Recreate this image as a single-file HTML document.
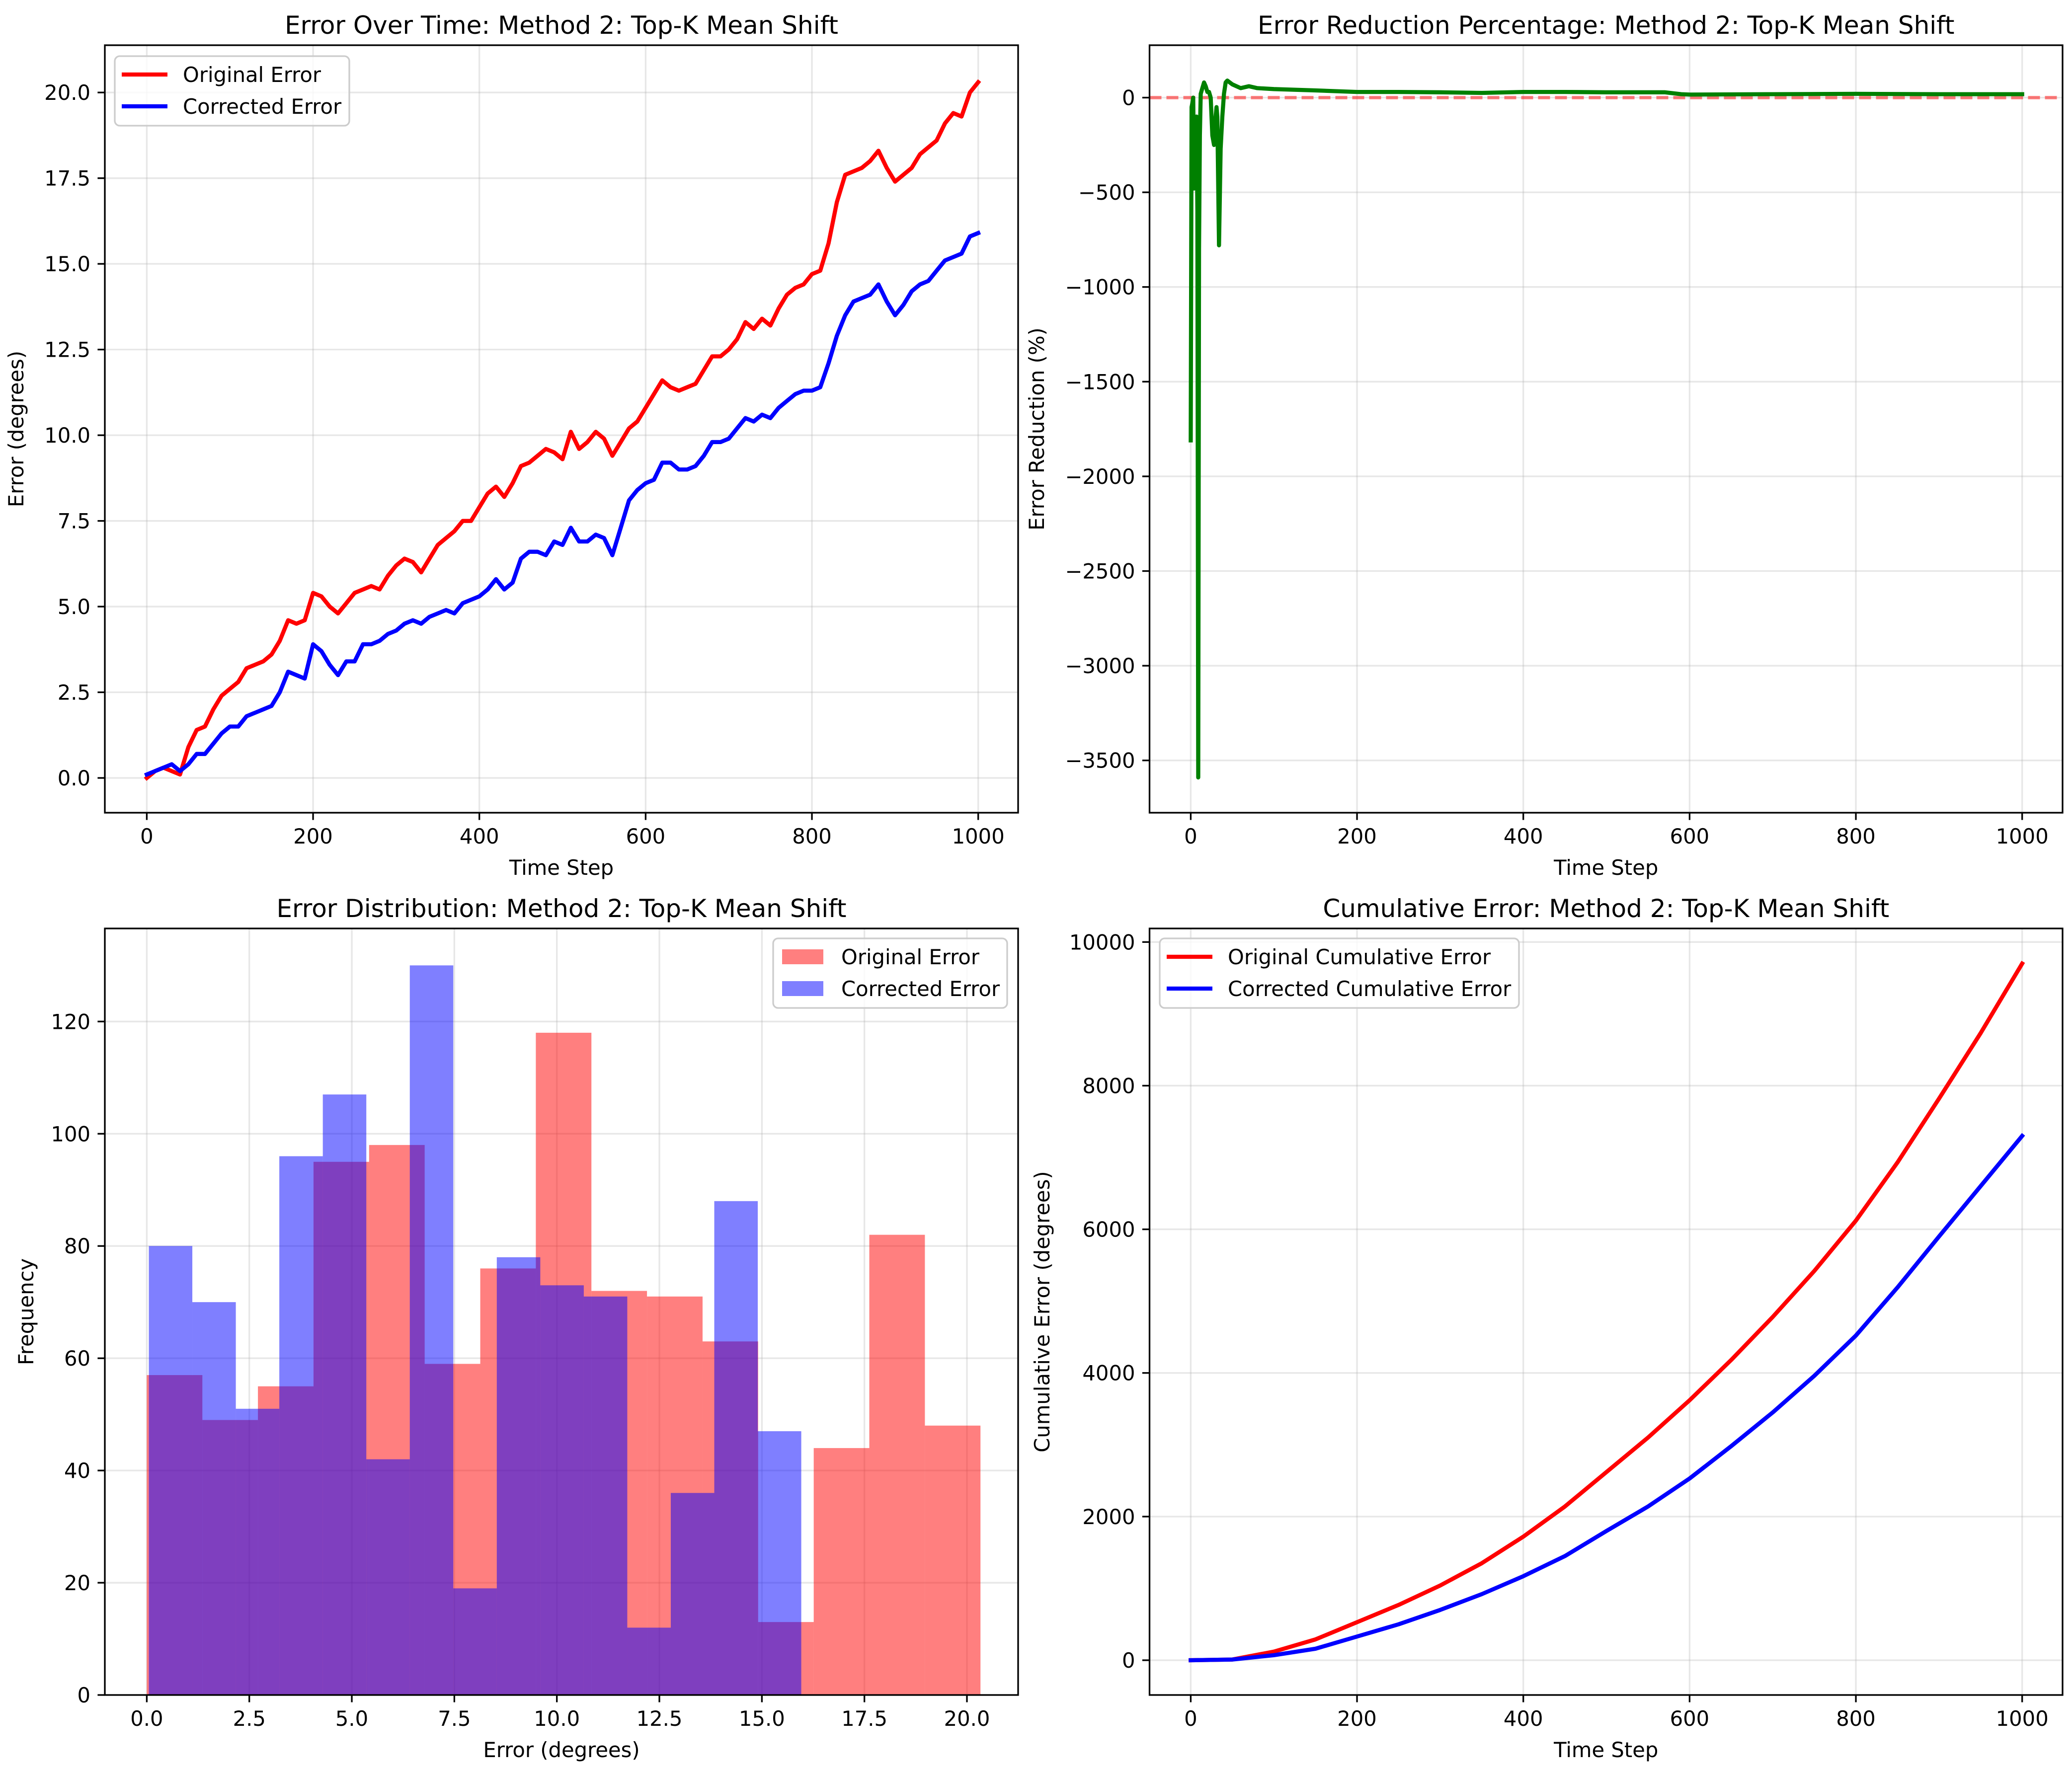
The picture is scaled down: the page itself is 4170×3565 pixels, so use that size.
<!DOCTYPE html>
<html><head><meta charset="utf-8"><style>
html,body{margin:0;padding:0;background:#fff}
svg{display:block}
text{font-family:"DejaVu Sans","Liberation Sans",sans-serif;fill:#000}
</style></head><body>
<svg id="fig" xmlns="http://www.w3.org/2000/svg" width="4170" height="3565" viewBox="0 0 4170 3565"></svg>
<script>
// ---------- Panel 1 data (every 10 steps) ----------
const p1Steps = [0,10,20,30,40,50,60,70,80,90,100,110,120,130,140,150,160,170,180,190,200,210,220,230,240,250,260,270,280,290,300,310,320,330,340,350,360,370,380,390,400,410,420,430,440,450,460,470,480,490,500,510,520,530,540,550,560,570,580,590,600,610,620,630,640,650,660,670,680,690,700,710,720,730,740,750,760,770,780,790,800,810,820,830,840,850,860,870,880,890,900,910,920,930,940,950,960,970,980,990,1000];
const originalError = [0,0.2,0.3,0.2,0.1,0.9,1.4,1.5,2.0,2.4,2.6,2.8,3.2,3.3,3.4,3.6,4.0,4.6,4.5,4.6,5.4,5.3,5.0,4.8,5.1,5.4,5.5,5.6,5.5,5.9,6.2,6.4,6.3,6.0,6.4,6.8,7.0,7.2,7.5,7.5,7.9,8.3,8.5,8.2,8.6,9.1,9.2,9.4,9.6,9.5,9.3,10.1,9.6,9.8,10.1,9.9,9.4,9.8,10.2,10.4,10.8,11.2,11.6,11.4,11.3,11.4,11.5,11.9,12.3,12.3,12.5,12.8,13.3,13.1,13.4,13.2,13.7,14.1,14.3,14.4,14.7,14.8,15.6,16.8,17.6,17.7,17.8,18.0,18.3,17.8,17.4,17.6,17.8,18.2,18.4,18.6,19.1,19.4,19.3,20.0,20.3];
const correctedError = [0.1,0.2,0.3,0.4,0.2,0.4,0.7,0.7,1.0,1.3,1.5,1.5,1.8,1.9,2.0,2.1,2.5,3.1,3.0,2.9,3.9,3.7,3.3,3.0,3.4,3.4,3.9,3.9,4.0,4.2,4.3,4.5,4.6,4.5,4.7,4.8,4.9,4.8,5.1,5.2,5.3,5.5,5.8,5.5,5.7,6.4,6.6,6.6,6.5,6.9,6.8,7.3,6.9,6.9,7.1,7.0,6.5,7.3,8.1,8.4,8.6,8.7,9.2,9.2,9.0,9.0,9.1,9.4,9.8,9.8,9.9,10.2,10.5,10.4,10.6,10.5,10.8,11.0,11.2,11.3,11.3,11.4,12.1,12.9,13.5,13.9,14.0,14.1,14.4,13.9,13.5,13.8,14.2,14.4,14.5,14.8,15.1,15.2,15.3,15.8,15.9];
const p1YTicks = [0,2.5,5,7.5,10,12.5,15,17.5,20];
const p1YLabels = ["0.0","2.5","5.0","7.5","10.0","12.5","15.0","17.5","20.0"];
const timeTicks = [0,200,400,600,800,1000];
// ---------- Panel 2 data ----------
const p2Steps = [0,1,2,3,4,5,6,7,8,9,10,11,12,14,16,18,20,22,24,26,28,30,31,32,34,36,38,40,42,44,50,60,70,80,100,150,200,250,300,350,400,450,500,550,570,590,600,700,800,900,1000];
const reductionPct = [-1810,-50,-30,0,-480,-100,-400,-100,-600,-3590,-800,-200,20,50,80,60,30,30,0,-200,-250,-100,-50,-100,-780,-270,-100,20,80,90,70,50,60,50,45,38,30,30,28,25,30,30,28,28,28,18,16,18,20,18,18];
const p2YTicks = [0,-500,-1000,-1500,-2000,-2500,-3000,-3500];
const p2YLabels = ["0","\u2212500","\u22121000","\u22121500","\u22122000","\u22122500","\u22123000","\u22123500"];
// ---------- Panel 3 data ----------
const origHistMin = 0, origHistMax = 20.33;
const origCounts = [57,49,55,95,98,59,76,118,72,71,63,13,44,82,48];
const corrHistMin = 0.05, corrHistMax = 15.96;
const corrCounts = [80,70,51,96,107,42,130,19,78,73,71,12,36,88,47];
const p3XTicks = [0,2.5,5,7.5,10,12.5,15,17.5,20];
const p3XLabels = ["0.0","2.5","5.0","7.5","10.0","12.5","15.0","17.5","20.0"];
const p3YTicks = [0,20,40,60,80,100,120];
// ---------- Panel 4 data ----------
const p4Steps = [0,50,100,150,200,250,300,350,400,450,500,550,600,650,700,750,800,850,900,950,1000];
const origCumulative = [0,10,120,290,530,770,1040,1350,1720,2140,2620,3100,3620,4180,4780,5420,6120,6930,7820,8730,9700];
const corrCumulative = [0,10,70,160,330,500,700,920,1170,1450,1800,2140,2530,2980,3450,3960,4520,5190,5900,6600,7300];
const p4YTicks = [0,2000,4000,6000,8000,10000];

const NS = "http://www.w3.org/2000/svg";
const fig = document.getElementById('fig');
function mk(tag, attrs, parent){
  const e = document.createElementNS(NS, tag);
  for (const k in attrs) e.setAttribute(k, attrs[k]);
  (parent||fig).appendChild(e);
  return e;
}
function lin(d0,d1,r0,r1){ return v => r0 + (v-d0)*(r1-r0)/(d1-d0); }

const LW = 8.3, FS = 41.7;

function axes(id, box, sx, sy, xt, xl, yt, yl, title, xlabel, ylabel, ylabX){
  const g = mk('g', {});
  
  
  const cp = mk('clipPath', {id:id+'-clip'}, g);
  mk('rect', {x:box.l, y:box.t, width:box.r-box.l, height:box.b-box.t}, cp);
  const grid = mk('g', {stroke:'#b0b0b0','stroke-opacity':0.3,'stroke-width':3.3}, g);
  
  
  xt.forEach(v=>mk('line',{x1:sx(v),x2:sx(v),y1:box.t,y2:box.b},grid));
  yt.forEach(v=>mk('line',{x1:box.l,x2:box.r,y1:sy(v),y2:sy(v)},grid));
  const plot = mk('g', {'clip-path':'url(#'+id+'-clip)'}, g);
  
  
  const frame = mk('rect', {x:box.l,y:box.t,width:box.r-box.l,height:box.b-box.t,fill:'none',stroke:'#000','stroke-width':3.3}, g);
  
  
  const xa = mk('g', {}, g);
  
  
  xt.forEach((v,i)=>{
    mk('line',{x1:sx(v),x2:sx(v),y1:box.b,y2:box.b+14.6,stroke:'#000','stroke-width':3.3},xa);
    const t = mk('text',{x:sx(v),y:box.b+62,'font-size':FS,'text-anchor':'middle'},xa);
    
    
    t.textContent = xl[i];
  });
  const ya = mk('g', {}, g);
  
  
  yt.forEach((v,i)=>{
    mk('line',{x1:box.l,x2:box.l-14.6,y1:sy(v),y2:sy(v),stroke:'#000','stroke-width':3.3},ya);
    const t = mk('text',{x:box.l-29,y:sy(v)+15,'font-size':FS,'text-anchor':'end'},ya);
    
    
    t.textContent = yl[i];
  });
  const tt = mk('text',{x:(box.l+box.r)/2,y:box.t-23,'font-size':50,'text-anchor':'middle'},g);
  
  
  tt.textContent = title;
  const xlb = mk('text',{x:(box.l+box.r)/2,y:box.b+125,'font-size':FS,'text-anchor':'middle'},g);
  
  
  xlb.textContent = xlabel;
  const cy = (box.t+box.b)/2;
  const ylb = mk('text',{x:ylabX,y:cy,'font-size':FS,'text-anchor':'middle',transform:'rotate(-90 '+ylabX+' '+cy+')'},g);
  
  
  ylb.textContent = ylabel;
  return {g, plot};
}
function line(parent, xs, ys, sx, sy, color, name){
  const pts = xs.map((x,i)=>sx(x).toFixed(1)+','+sy(ys[i]).toFixed(1)).join(' ');
  const p = mk('polyline',{points:pts,fill:'none',stroke:color,'stroke-width':LW,'stroke-linejoin':'round','stroke-linecap':'square'},parent);
  
  
  return p;
}
function legend(parent, x, y, w, entries, kind){
  const g = mk('g', {}, parent);
  
  
  mk('rect',{x:x,y:y,width:w,height:140,rx:10,fill:'#fff','fill-opacity':0.8,stroke:'#cccccc','stroke-width':3.3},g);
  entries.forEach((e,i)=>{
    const ry = y + 37 + i*64;
    const eg = mk('g',{},g);
    
    
    if (kind==='line') mk('line',{x1:x+14,x2:x+106,y1:ry,y2:ry,stroke:e.c,'stroke-width':LW},eg);
    else mk('rect',{x:x+18,y:ry-15,width:83,height:30,fill:e.c,'fill-opacity':0.5},eg);
    const t = mk('text',{x:x+137,y:ry+15,'font-size':FS},eg);
    t.textContent = e.t;
  });
}

// ---------- Panel 1 ----------
(function(){
  const box = {l:211,r:2049,t:91,b:1636};
  const sx = lin(0,1000,295.4,1968.7), sy = lin(0,20,1566,186.2);
  const a = axes('error-over-time', box, sx, sy, timeTicks, timeTicks.map(String), p1YTicks, p1YLabels,
    'Error Over Time: Method 2: Top-K Mean Shift','Time Step','Error (degrees)',47);
  line(a.plot, p1Steps, originalError, sx, sy, '#ff0000', 'original-error-line');
  line(a.plot, p1Steps, correctedError, sx, sy, '#0000ff', 'corrected-error-line');
  legend(a.g, 231, 113, 472, [{t:'Original Error',c:'#ff0000'},{t:'Corrected Error',c:'#0000ff'}], 'line');
})();
// ---------- Panel 2 ----------
(function(){
  const box = {l:2313.5,r:4151,t:91,b:1636};
  const sx = lin(0,1000,2396.4,4069.7), sy = lin(0,-3500,196.5,1530.7);
  const a = axes('error-reduction', box, sx, sy, timeTicks, timeTicks.map(String), p2YTicks, p2YLabels,
    'Error Reduction Percentage: Method 2: Top-K Mean Shift','Time Step','Error Reduction (%)',2101);
  const z = mk('line',{x1:box.l,x2:box.r,y1:sy(0),y2:sy(0),stroke:'#ff0000','stroke-opacity':0.5,'stroke-width':LW*0.8,'stroke-dasharray':'24 10'},a.plot);
  
  
  line(a.plot, p2Steps, reductionPct, sx, sy, '#008000', 'reduction-line');
})();
// ---------- Panel 3 ----------
(function(){
  const box = {l:211,r:2049,t:1869,b:3412};
  const sx = lin(0,20,295.4,1946), sy = lin(0,120,3412,2056.3);
  const a = axes('error-distribution', box, sx, sy, p3XTicks, p3XLabels, p3YTicks, p3YTicks.map(String),
    'Error Distribution: Method 2: Top-K Mean Shift','Error (degrees)','Frequency',67);
  function hist(counts, mn, mx, color, name){
    const w = (mx-mn)/counts.length;
    counts.forEach((c,i)=>{
      const x0 = sx(mn+i*w), x1 = sx(mn+(i+1)*w);
      const r = mk('rect',{x:x0,y:sy(c),width:x1-x0,height:sy(0)-sy(c),fill:color,'fill-opacity':0.5},a.plot);
      
      
    });
  }
  hist(origCounts, origHistMin, origHistMax, '#ff0000', 'original-error-bar');
  hist(corrCounts, corrHistMin, corrHistMax, '#0000ff', 'corrected-error-bar');
  legend(a.g, 1556, 1889, 471, [{t:'Original Error',c:'#ff0000'},{t:'Corrected Error',c:'#0000ff'}], 'patch');
})();
// ---------- Panel 4 ----------
(function(){
  const box = {l:2313.5,r:4151,t:1869,b:3412};
  const sx = lin(0,1000,2396.4,4069.7), sy = lin(0,10000,3342,1896.3);
  const a = axes('cumulative-error', box, sx, sy, timeTicks, timeTicks.map(String), p4YTicks, p4YTicks.map(String),
    'Cumulative Error: Method 2: Top-K Mean Shift','Time Step','Cumulative Error (degrees)',2112);
  line(a.plot, p4Steps, origCumulative, sx, sy, '#ff0000', 'original-cumulative-line');
  line(a.plot, p4Steps, corrCumulative, sx, sy, '#0000ff', 'corrected-cumulative-line');
  legend(a.g, 2334, 1889, 723, [{t:'Original Cumulative Error',c:'#ff0000'},{t:'Corrected Cumulative Error',c:'#0000ff'}], 'line');
})();
</script>
</body></html>
